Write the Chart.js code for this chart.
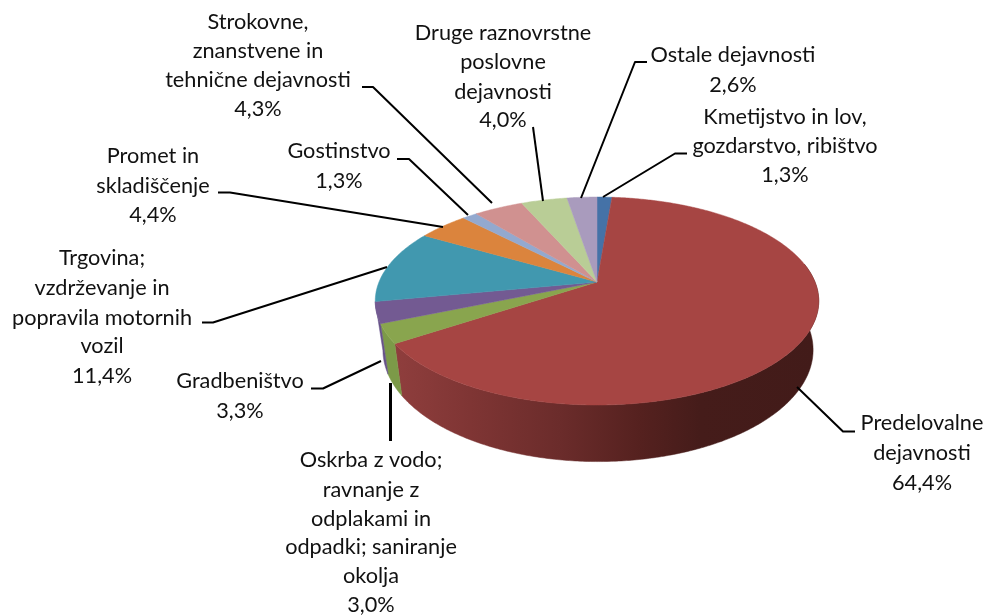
<!DOCTYPE html>
<html><head><meta charset="utf-8">
<style>html,body{margin:0;padding:0;background:#fff}canvas{display:block}</style>
<script src="https://cdn.jsdelivr.net/npm/chart.js@4"></script>
</head><body><canvas id="c" width="987" height="615"></canvas>
<script>
// --- data ---
const categories = [
  ['Kmetijstvo in lov,','gozdarstvo, ribištvo'],
  ['Predelovalne','dejavnosti'],
  ['Oskrba z vodo;','ravnanje z','odplakami in','odpadki; saniranje','okolja'],
  ['Gradbeništvo'],
  ['Trgovina;','vzdrževanje in','popravila motornih','vozil'],
  ['Promet in','skladiščenje'],
  ['Gostinstvo'],
  ['Strokovne,','znanstvene in','tehnične dejavnosti'],
  ['Druge raznovrstne','poslovne','dejavnosti'],
  ['Ostale dejavnosti']
];
const values = [1.3,64.4,3.0,3.3,11.4,4.4,1.3,4.3,4.0,2.6];
const topColors = ['#4572A7','#A64543','#89A54E','#735A92','#4198AF','#DB843D','#93A9CF','#D09190','#B9CD96','#A99BBD'];
const wallColors = ['#36587f','#8e3d3c','#7c9a48','#665288','#367f94','#b96f33','#7d90b0','#b07b7a','#9daf80','#8f84a0'];
const wallRamp = [[395,'#8f3e3d'],[470,'#7f3534'],[560,'#6b2c2b'],[640,'#55211f'],[700,'#451c1a'],[817,'#421b19']];

// --- layout of the labels ---
const labelX = [785,922,371,240,102,153,339,258,503,733];
const labelBase = [
  [124,153,182],[430,460,490],[467,497,526,554,583,612],[388,418],[265,295,325,353,383],
  [163,193,222],[158,188],[29,58,87,116],[40,69,99,127],[62,92]
];
const leaders = [
  [[687,153.5],[675,153.5],[603,197]],
  [[855,431.5],[843,431.5],[797,387]],
  [[390.5,441],[390.5,383]],
  [[311,388.5],[323,388.5],[381,361]],
  [[202,322.5],[213,322.5],[387,267]],
  [[218,192.5],[230,192.5],[443,227]],
  [[397,159],[409,159],[468,215]],
  [[362,87],[373,87],[492,203]],
  [[533,127],[543,201]],
  [[647,62],[635,62],[581,198]]
];

// perspective of the disc
const P = 0.183, HK = 0.461, BOT = {rx:0.97, sx:1, d:47.5, hk:0.495};
function proj(el, a, low){
  const u = Math.cos(a), v = Math.sin(a), s = 1/(1-P*v), R = el.outerRadius;
  if(!low) return [el.x + R*u*s, el.y + R*HK*v*s];
  return [el.x + BOT.sx + R*BOT.rx*u*s, el.y + BOT.d + R*BOT.hk*v*s];
}
function arcPts(el,a0,a1,low){
  const n = Math.max(2,Math.ceil(Math.abs(a1-a0)/0.01)), pts=[];
  for(let i=0;i<=n;i++) pts.push(proj(el,a0+(a1-a0)*i/n,low));
  return pts;
}
const pie3d = {
  id:'pie3d',
  beforeDatasetsDraw(chart){
    const ctx = chart.ctx, arcs = chart.getDatasetMeta(0).data;
    // walls: only the part of the rim that faces the viewer
    const vis0 = -0.185, vis1 = Math.PI-0.19;
    arcs.forEach((el,i)=>{
      const a0 = Math.max(el.startAngle,vis0), a1 = Math.min(el.endAngle,vis1);
      if(a1<=a0) return;
      const top = arcPts(el,a0,a1,false), low = arcPts(el,a0,a1,true).reverse();
      ctx.beginPath();
      top.concat(low).forEach((p,k)=>k?ctx.lineTo(p[0],p[1]):ctx.moveTo(p[0],p[1]));
      ctx.closePath();
      let fill = wallColors[i];
      if(i===1){
        const g = ctx.createLinearGradient(wallRamp[0][0],0,wallRamp[wallRamp.length-1][0],0);
        wallRamp.forEach(s=>g.addColorStop((s[0]-wallRamp[0][0])/(wallRamp[wallRamp.length-1][0]-wallRamp[0][0]),s[1]));
        fill = g;
      }
      ctx.fillStyle = fill; ctx.strokeStyle = fill; ctx.lineWidth = .5;
      ctx.fill(); ctx.stroke();
    });
    // top faces
    arcs.forEach((el,i)=>{
      const pts = arcPts(el,el.startAngle,el.endAngle,false);
      ctx.beginPath(); ctx.moveTo(el.x,el.y);
      pts.forEach(p=>ctx.lineTo(p[0],p[1]));
      ctx.closePath();
      ctx.fillStyle = topColors[i]; ctx.strokeStyle = topColors[i]; ctx.lineWidth = .5;
      ctx.fill(); ctx.stroke();
    });
    return false;
  },
  afterDraw(chart){
    const ctx = chart.ctx;
    ctx.save();
    ctx.strokeStyle = '#000'; ctx.lineJoin='round';
    leaders.forEach(l=>{
      ctx.lineWidth = l.length===2 && l[0][0]===l[1][0] ? 3 : 2;
      ctx.beginPath();
      l.forEach((p,k)=>k?ctx.lineTo(p[0],p[1]):ctx.moveTo(p[0],p[1]));
      ctx.stroke();
    });
    ctx.fillStyle = '#111'; ctx.font = '21.7px Lato'; ctx.textAlign='center'; ctx.textBaseline='alphabetic';
    categories.forEach((lines,i)=>{
      const all = lines.concat([values[i].toFixed(1).replace('.',',')+'%']);
      all.forEach((t,k)=>ctx.fillText(t,labelX[i],labelBase[i][k]));
    });
    ctx.restore();
  }
};
new Chart(document.getElementById('c'),{
  type:'pie',
  data:{labels:categories,datasets:[{data:values,backgroundColor:topColors,borderWidth:0}]},
  options:{
    responsive:false,animation:false,
    layout:{padding:{left:379,right:172,top:64,bottom:115}},
    plugins:{legend:{display:false},tooltip:{enabled:false}}
  },
  plugins:[pie3d]
});
</script></body></html>
